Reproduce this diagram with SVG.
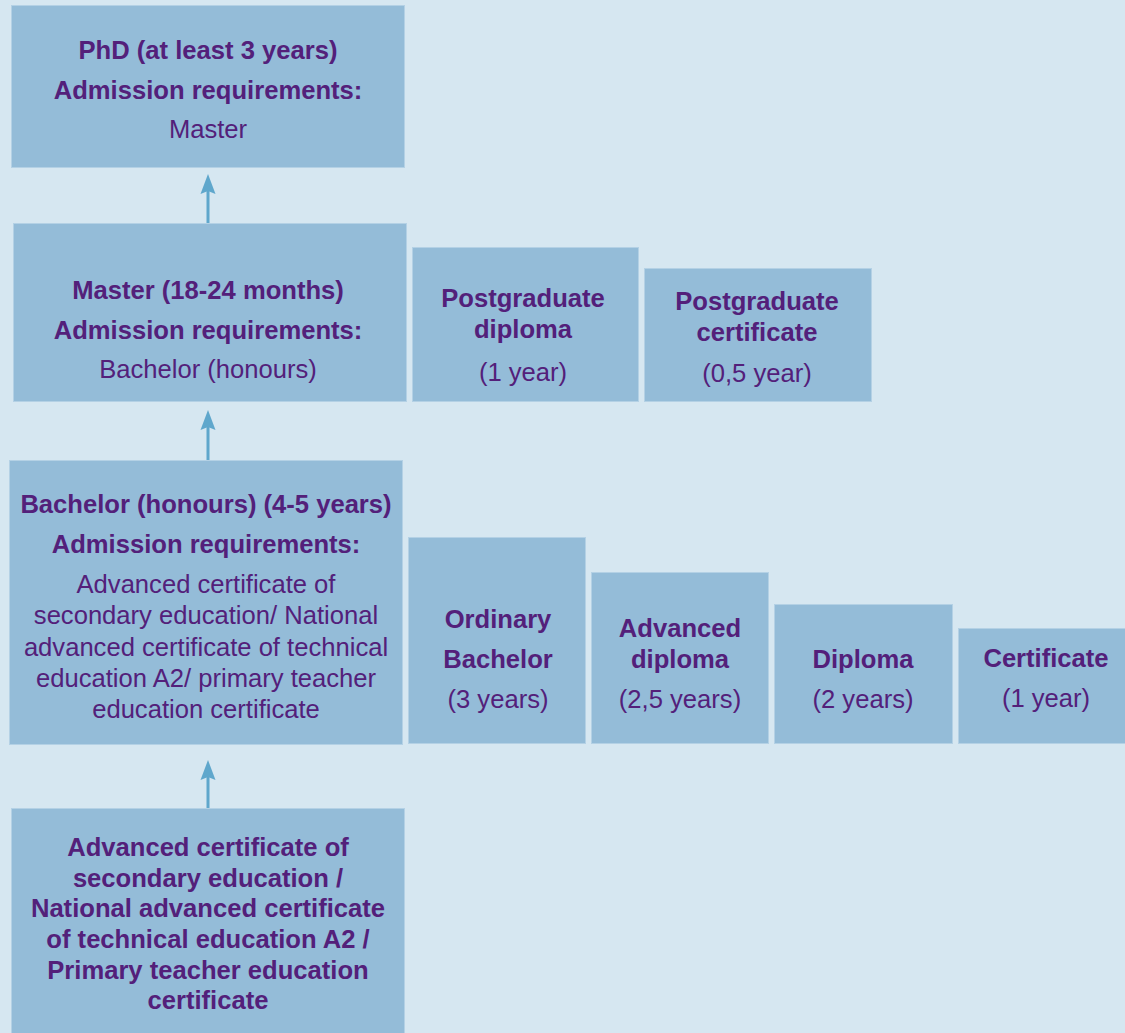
<svg xmlns="http://www.w3.org/2000/svg" width="1125" height="1033" viewBox="0 0 1125 1033">
<style>
.box{fill:#94bcd8;stroke:#b4d1e5;stroke-width:1}
text{font-family:"Liberation Sans",Arial,sans-serif;font-size:25.6px;fill:#53207a;text-anchor:middle}
.b{font-weight:bold}
.conn{stroke:#5fa7cc;stroke-width:3;fill:none}
</style>
<defs>
<marker id="ah" viewBox="0 0 20 16" refX="3" refY="8" markerWidth="20" markerHeight="16" markerUnits="userSpaceOnUse" orient="auto">
<path d="M20 8 L0 0.5 L3 8 L0 15.5 Z" fill="#5fa7cc"/>
</marker>
</defs>
<rect width="1125" height="1033" fill="#d6e7f1"/>
<g id="connectors">
<line class="conn" x1="208" y1="223" x2="208" y2="191" marker-end="url(#ah)"/>
<line class="conn" x1="208" y1="460" x2="208" y2="427" marker-end="url(#ah)"/>
<line class="conn" x1="208" y1="808" x2="208" y2="777" marker-end="url(#ah)"/>
</g>
<g id="phd">
<rect class="box" x="11.5" y="5.5" width="393" height="162"/>
<text class="b" x="208" y="59">PhD (at least 3 years)</text>
<text class="b" x="208" y="99">Admission requirements:</text>
<text x="208" y="138">Master</text>
</g>
<g id="master">
<rect class="box" x="13.5" y="223.5" width="393" height="178"/>
<text class="b" x="208" y="299">Master (18-24 months)</text>
<text class="b" x="208" y="339">Admission requirements:</text>
<text x="208" y="378">Bachelor (honours)</text>
</g>
<g id="pg-diploma">
<rect class="box" x="412.5" y="247.5" width="226" height="154"/>
<text class="b" x="523" y="307">Postgraduate</text>
<text class="b" x="523" y="338">diploma</text>
<text x="523" y="381">(1 year)</text>
</g>
<g id="pg-certificate">
<rect class="box" x="644.5" y="268.5" width="227" height="133"/>
<text class="b" x="757" y="310">Postgraduate</text>
<text class="b" x="757" y="341">certificate</text>
<text x="757" y="382">(0,5 year)</text>
</g>
<g id="bachelor-honours">
<rect class="box" x="9.5" y="460.5" width="393" height="284"/>
<text class="b" x="206" y="513">Bachelor (honours) (4-5 years)</text>
<text class="b" x="206" y="553">Admission requirements:</text>
<text x="206" y="593">Advanced certificate of</text>
<text x="206" y="624">secondary education/ National</text>
<text x="206" y="656">advanced certificate of technical</text>
<text x="206" y="687">education A2/ primary teacher</text>
<text x="206" y="718">education certificate</text>
</g>
<g id="ordinary-bachelor">
<rect class="box" x="408.5" y="537.5" width="177" height="206"/>
<text class="b" x="498" y="628">Ordinary</text>
<text class="b" x="498" y="668">Bachelor</text>
<text x="498" y="708">(3 years)</text>
</g>
<g id="advanced-diploma">
<rect class="box" x="591.5" y="572.5" width="177" height="171"/>
<text class="b" x="680" y="637">Advanced</text>
<text class="b" x="680" y="668">diploma</text>
<text x="680" y="708">(2,5 years)</text>
</g>
<g id="diploma">
<rect class="box" x="774.5" y="604.5" width="178" height="139"/>
<text class="b" x="863" y="668">Diploma</text>
<text x="863" y="708">(2 years)</text>
</g>
<g id="certificate">
<rect class="box" x="958.5" y="628.5" width="180" height="115"/>
<text class="b" x="1046" y="667">Certificate</text>
<text x="1046" y="707">(1 year)</text>
</g>
<g id="secondary">
<rect class="box" x="11.5" y="808.5" width="393" height="240"/>
<text class="b" x="208" y="856">Advanced certificate of</text>
<text class="b" x="208" y="887">secondary education /</text>
<text class="b" x="208" y="917">National advanced certificate</text>
<text class="b" x="208" y="948">of technical education A2 /</text>
<text class="b" x="208" y="979">Primary teacher education</text>
<text class="b" x="208" y="1009">certificate</text>
</g>
</svg>
